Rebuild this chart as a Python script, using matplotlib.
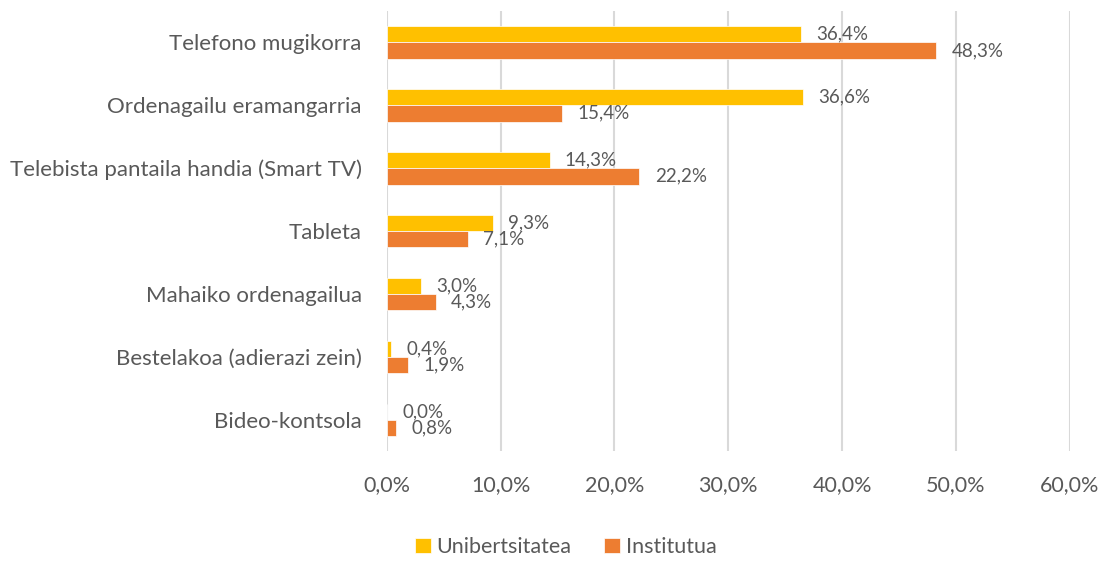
import matplotlib
matplotlib.use("Agg")
import matplotlib.pyplot as plt
import numpy as np

plt.rcParams['font.family'] = ['Lato', 'DejaVu Sans']

# Datuak
categories = ["Telefono mugikorra", "Ordenagailu eramangarria",
              "Telebista pantaila handia (Smart TV)", "Tableta",
              "Mahaiko ordenagailua", "Bestelakoa (adierazi zein)",
              "Bideo-kontsola"]
unibertsitatea = [36.4, 36.6, 14.3, 9.3, 3.0, 0.4, 0.0]
institutua = [48.3, 15.4, 22.2, 7.1, 4.3, 1.9, 0.8]
x_ticks = [0, 10, 20, 30, 40, 50, 60]

text_color = "#595959"
yellow = "#FFC000"
orange = "#ED7D31"

fig = plt.figure(figsize=(11.05, 5.64), dpi=100)
ax = fig.add_axes([0.350, 0.1995, 0.618, 0.7815])

y = np.arange(len(categories))
h = 0.26

bars_u = ax.barh(y - h / 2, unibertsitatea, height=h, color=yellow,
                 edgecolor="white", linewidth=0.5, label="Unibertsitatea")
bars_i = ax.barh(y + h / 2, institutua, height=h, color=orange,
                 edgecolor="white", linewidth=0.5, label="Institutua")

# Balioen etiketak
for bars, values in [(bars_u, unibertsitatea), (bars_i, institutua)]:
    for bar, v in zip(bars, values):
        ax.annotate(("%.1f%%" % v).replace(".", ","),
                    (v, bar.get_y() + bar.get_height() / 2),
                    xytext=(11, 0), textcoords="offset points",
                    ha="left", va="center", fontsize=13.5, color=text_color)

ax.set_xlim(0, 60)
ax.set_ylim(len(categories) - 0.5, -0.5)
ax.set_xticks(x_ticks)
ax.set_xticklabels([("%.1f%%" % t).replace(".", ",") for t in x_ticks])
ax.set_yticks(y)
ax.set_yticklabels(categories, fontsize=16)

ax.tick_params(axis="both", length=0, colors=text_color)
ax.tick_params(axis="x", pad=17, labelsize=15.5)
ax.tick_params(axis="y", pad=18)

ax.grid(axis="x", color="#D9D9D9", linewidth=1.5)
ax.set_axisbelow(True)
for s in ax.spines.values():
    s.set_visible(False)

fig.legend(loc="lower center", bbox_to_anchor=(0.512, -0.022), ncol=2,
           frameon=False, fontsize=15.5, handlelength=0.75, handleheight=0.75,
           handletextpad=0.25, columnspacing=1.5, labelcolor=text_color)

fig.savefig("out.png", dpi=100)
